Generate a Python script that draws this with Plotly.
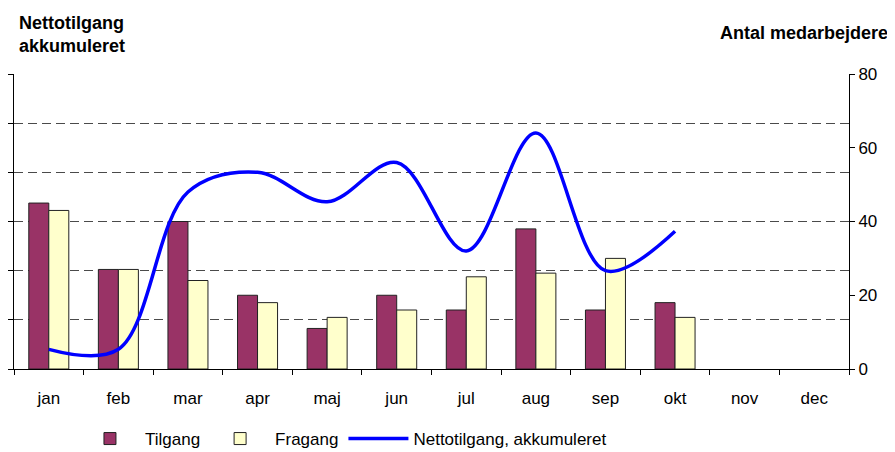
import plotly.graph_objects as go

months = ['jan', 'feb', 'mar', 'apr', 'maj', 'jun', 'jul', 'aug', 'sep', 'okt', 'nov', 'dec']
tilgang = [45, 27, 40, 20, 11, 20, 16, 38, 16, 18]
fragang = [43, 27, 24, 18, 14, 16, 25, 26, 30, 14]
netto_akk = [2, 2, 18, 20, 17, 21, 12, 24, 10, 14]

font_main = 'Liberation Sans, Arial, sans-serif'

# the page body adds an 8px margin, so the figure is drawn 8px in from the top-left
W, H = 887, 444

fig = go.Figure()

fig.add_trace(go.Bar(
    x=months[:len(tilgang)], y=tilgang, name='Tilgang',
    marker=dict(color='#993366', line=dict(color='#222222', width=1)),
    yaxis='y'
))
fig.add_trace(go.Bar(
    x=months[:len(fragang)], y=fragang, name='Fragang',
    marker=dict(color='#FFFFCC', line=dict(color='#222222', width=1)),
    yaxis='y'
))
fig.add_trace(go.Scatter(
    x=months[:len(netto_akk)], y=netto_akk, name='Nettotilgang, akkumuleret',
    mode='lines', line=dict(color='#0000FF', width=3.5, shape='spline', smoothing=1.0),
    yaxis='y2'
))

fig.update_layout(
    width=W, height=H,
    margin=dict(l=6, r=46, t=66, b=83, autoexpand=False),
    paper_bgcolor='white', plot_bgcolor='white',
    font=dict(family=font_main, size=17, color='black'),
    barmode='group', bargap=0.425, bargroupgap=0,
    xaxis=dict(
        categoryorder='array', categoryarray=months, range=[-0.5, 11.5],
        showline=True, linecolor='black', linewidth=1,
        ticks='outside', ticklen=5, tickcolor='black', tickson='boundaries',
        ticklabelstandoff=14, showgrid=False, automargin=False
    ),
    yaxis=dict(
        side='right', range=[0, 80], dtick=20,
        showline=True, linecolor='black', linewidth=1,
        ticks='outside', ticklen=5, tickcolor='black',
        showgrid=False, zeroline=False, automargin=False
    ),
    yaxis2=dict(
        overlaying='y', side='left', range=[0, 30.0001], tickvals=[0, 5, 10, 15, 20, 25, 30],
        showline=True, linecolor='black', linewidth=1,
        ticks='outside', ticklen=5, tickcolor='black',
        showticklabels=False,
        showgrid=True, gridcolor='#4a4a4a', gridwidth=1, griddash='9px,5px',
        zeroline=False, automargin=False
    ),
    legend=dict(
        orientation='h', x=0.073, xanchor='left', yref='container', y=(H - 431) / H,
        yanchor='middle', itemwidth=60,
        font=dict(size=17), bgcolor='rgba(0,0,0,0)'
    ),
    showlegend=True,
    annotations=[
        dict(text='<b>Nettotilgang<br>akkumuleret</b>', xref='paper', yref='paper',
             x=(9 - 6) / 835, y=1 + (66 - 3) / 295.3, xanchor='left', yanchor='top',
             align='left', showarrow=False, font=dict(size=18)),
        dict(text='<b>Antal medarbejdere</b>', xref='paper', yref='paper',
             x=(882 - 6) / 835, y=1 + (66 - 25) / 295.3, xanchor='right', yanchor='middle',
             showarrow=False, font=dict(size=18)),
    ]
)

fig.write_html("out.html")
